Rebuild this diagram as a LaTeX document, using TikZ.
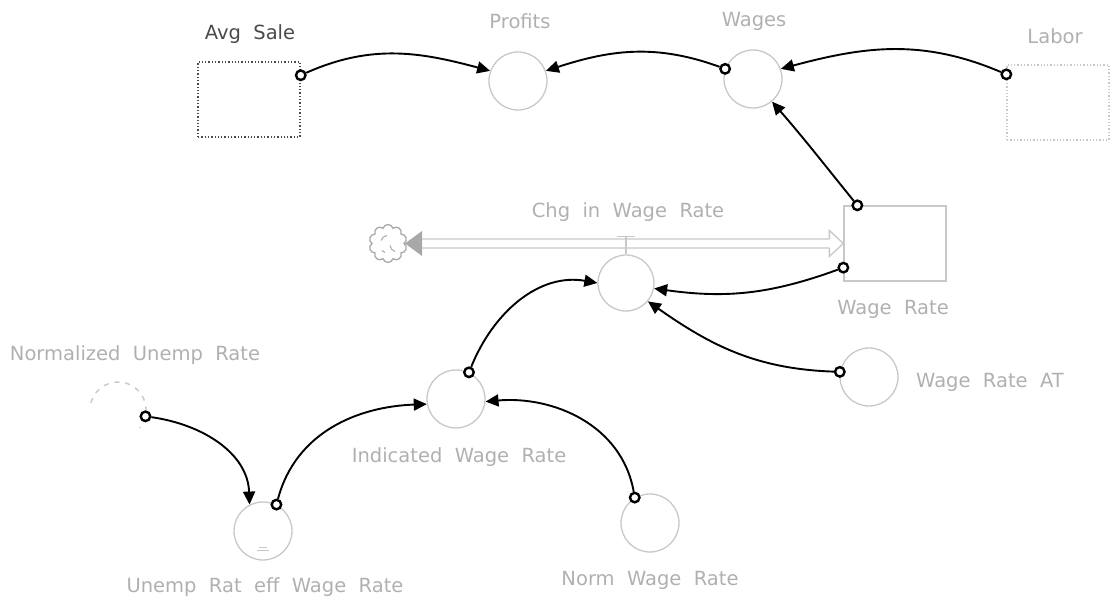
\documentclass[tikz,border=0pt]{standalone}
\usepackage{fontspec}
\setmainfont{DejaVu Sans}[WordSpace=2]
\usetikzlibrary{arrows.meta,shapes.symbols}

\definecolor{outl}{HTML}{C8C8C8}
\definecolor{lbl}{HTML}{B0B0B0}
\definecolor{darklbl}{HTML}{4A4A4A}
\definecolor{cloudgray}{HTML}{A8A8A8}

\begin{document}
\begin{tikzpicture}[x=1pt,y=1pt,
  aux/.style={circle,draw=outl,line width=1.3pt,minimum size=58pt,inner sep=0pt},
  lab/.style={text=lbl,font=\fontsize{19.5}{22}\selectfont,inner sep=0pt},
  orig/.style={circle,draw=black,line width=2.4pt,fill=white,minimum size=9.5pt,inner sep=0pt},
  link/.style={black,line width=1.9pt,-{Triangle[length=13pt,width=12pt]}},
  stockbox/.style={draw=outl,line width=1.3pt,minimum width=102pt,minimum height=75pt,inner sep=0pt},
  pipeline/.style={draw=outl,line width=1.3pt},
  ghostline/.style={draw=outl,line width=1.4pt,dash pattern=on 5pt off 6pt}
]
\useasboundingbox (0,0) rectangle (1110,601);

% stocks and shadow boxes
\node[stockbox,draw=darklbl,dotted,line width=1.5pt] (avgbox) at (249,501.5) {};
\node[stockbox,dotted] (labor) at (1058,498.5) {};
\node[stockbox] (stock) at (895,357.5) {};

% auxiliaries
\node[aux] (profits) at (518,520) {};
\node[aux] (wages) at (753,522) {};
\node[aux,minimum size=56pt] (rate) at (626,318) {};
\node[aux] (wrat) at (869,224) {};
\node[aux] (ind) at (456,202) {};
\node[aux] (norm) at (650,78) {};
\node[aux] (unemp) at (263,70) {};
\node[circle,minimum size=56pt,inner sep=0pt] (ghost) at (118,191) {};
\draw[ghostline] ([shift={(165:28)}]ghost.center) arc (165:-40:28);

% lookup mark inside the effect variable
\draw[outl,line width=1pt] ([shift={(-6,-20)}]unemp.center) -- ([shift={(6,-20)}]unemp.center);
\draw[outl,line width=1pt] ([shift={(-4,-17)}]unemp.center) -- ([shift={(4,-17)}]unemp.center);

% labels
\node[lab,text=darklbl] (avglab) at (250,567) {Avg Sale};
\node[lab] (proflab) at (520,580) {Profits};
\node[lab] (wageslab) at (754,580) {Wages};
\node[lab] (laborlab) at (1055,565) {Labor};
\node[lab] (chglab) at (628,389) {Chg in Wage Rate};
\node[lab] (wrlab) at (893,292) {Wage Rate};
\node[lab,anchor=west] (wratlab) at (916,219) {Wage Rate AT};
\node[lab] (nurlab) at (135,246) {Normalized Unemp Rate};
\node[lab] (indlab) at (459,144) {Indicated Wage Rate};
\node[lab] (unemplab) at (265,14) {Unemp Rat eff Wage Rate};
\node[lab] (normlab) at (650,21) {Norm Wage Rate};

% source cloud and flow pipe
\node[cloud,cloud puffs=10,aspect=1,draw=cloudgray,line width=1.3pt,
      minimum width=38pt,minimum height=38pt,inner sep=0pt] (cloud) at (388,357.5) {};
\draw[cloudgray,line width=1pt] ([shift={(-7,3)}]cloud.center) to[bend left=30] ([shift={(-1,8)}]cloud.center);
\draw[cloudgray,line width=1pt] ([shift={(2,-2)}]cloud.center) to[bend right=30] ([shift={(7,-8)}]cloud.center);
\draw[cloudgray,line width=1pt] ([shift={(-6,-7)}]cloud.center) -- ([shift={(-3,-9)}]cloud.center);
\fill[cloudgray] (cloud.east) -- ++(17,12.5) -- ++(0,-25) -- cycle;

\draw[pipeline] ([shift={(17,4.5)}]cloud.east) -- ([shift={(-14,4.5)}]stock.west);
\draw[pipeline] ([shift={(17,-4.5)}]cloud.east) -- ([shift={(-14,-4.5)}]stock.west);
\draw[pipeline] ([shift={(-14,4.5)}]stock.west) -- ([shift={(-14,13)}]stock.west)
  -- (stock.west) -- ([shift={(-14,-13)}]stock.west) -- ([shift={(-14,-4.5)}]stock.west);

% valve
\draw[pipeline] ([shift={(-9,18)}]rate.north) -- ([shift={(9,18)}]rate.north);
\draw[pipeline] ([yshift=18pt]rate.north) -- (rate.north);

% connector origins
\node[orig] (oavg) at ([yshift=-14pt]avgbox.north east) {};
\node[orig] (olabor) at ([yshift=-10pt]labor.north west) {};
\node[orig] (owages) at (wages.160) {};
\node[orig] (owr1) at ([xshift=14pt]stock.north west) {};
\node[orig] (owr2) at ([yshift=14pt]stock.south west) {};
\node[orig] (owrat) at (wrat.170) {};
\node[orig] (oind) at (ind.64) {};
\node[orig] (ounemp) at (unemp.63) {};
\node[orig] (onorm) at (norm.121) {};
\node[orig] (onur) at (ghost.-13) {};

% connectors
\draw[link] (oavg) to[out=24,in=165] (profits.160);
\draw[link] (owages) to[out=160,in=18] (profits.20);
\draw[link] (olabor) to[out=157,in=15] (wages.20);
\draw[link] (owr1) to[out=129,in=-49] (wages.-50);
\draw[link] (owr2) to[out=200,in=-8] (rate.-11);
\draw[link] (owrat) to[out=178,in=-35] (rate.-40);
\draw[link] (oind) to[out=68,in=170] (rate.180);
\draw[link] (onur) to[out=-8,in=92] (unemp.117);
\draw[link] (ounemp) to[out=75,in=182] (ind.190);
\draw[link] (onorm) to[out=100,in=5] (ind.-5);
\end{tikzpicture}
\end{document}
